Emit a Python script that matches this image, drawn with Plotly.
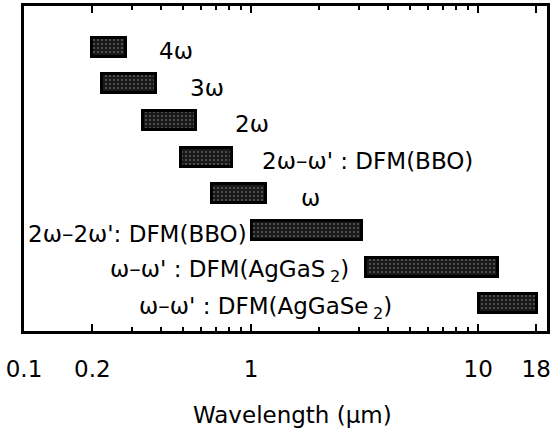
import math
import plotly.graph_objects as go

# ---- data ----
labels = ["4ω", "3ω", "2ω", "2ω–ω' : DFM(BBO)", "ω",
          "2ω–2ω': DFM(BBO)", "ω–ω' : DFM(AgGaS\u2009<sub>2</sub>)",
          "ω–ω' : DFM(AgGaSe\u2009<sub>2</sub>)"]
start_um = [0.20, 0.22, 0.335, 0.49, 0.675, 1.01, 3.2, 10.05]
end_um = [0.28, 0.38, 0.57, 0.82, 1.16, 3.07, 12.2, 18.1]
tick_vals = [0.1, 0.2, 1, 10, 18]
tick_text = ["0.1", "0.2", "1", "10", "18"]
minor_vals = [0.3, 0.4, 0.5, 0.6, 0.7, 0.8, 0.9, 2, 3, 4, 5, 6, 7, 8, 9, 20]

# ---- label styling (side of bar and pixel offset) ----
label_side = ["r", "r", "r", "r", "r", "l", "l", "l"]
label_shift = [31, 32, 37, 28, 33, -3, -15, -85]

FONT = "DejaVu Sans"
FS = 23
rows = list(range(len(labels)))

fig = go.Figure()
fig.add_trace(go.Bar(
    y=rows,
    x=[e - s for s, e in zip(start_um, end_um)],
    base=start_um,
    orientation="h",
    width=0.52,
    marker=dict(
        color="#111111",
        line=dict(color="black", width=3),
        pattern=dict(shape=".", fgcolor="#a0a0a0", bgcolor="#1a1a1a",
                     size=4, solidity=0.2),
    ),
    showlegend=False,
    hoverinfo="skip",
))

for i, lab in enumerate(labels):
    if label_side[i] == "r":
        xv, anchor = math.log10(end_um[i]), "left"
    else:
        xv, anchor = math.log10(start_um[i]), "right"
    fig.add_annotation(x=xv, y=rows[i], xref="x", yref="y", text=lab,
                       showarrow=False, xanchor=anchor, yanchor="middle",
                       xshift=label_shift[i], yshift=-4,
                       font=dict(family=FONT, size=FS, color="black"))

fig.add_annotation(x=0.514, y=0, xref="paper", yref="paper",
                   text="Wavelength (μm)", showarrow=False,
                   xanchor="center", yanchor="middle", yshift=-84,
                   font=dict(family=FONT, size=FS, color="black"))

fig.update_xaxes(
    type="log", range=[-1.0, 1.303],
    tickvals=tick_vals, ticktext=tick_text,
    ticks="inside", ticklen=7, tickwidth=2, tickcolor="black",
    minor=dict(tickvals=minor_vals, ticks="inside", ticklen=4,
               tickwidth=2, tickcolor="black", showgrid=False),
    showline=True, linewidth=3, linecolor="black", mirror="ticks",
    showgrid=False, zeroline=False, automargin=False,
    tickfont=dict(family=FONT, size=FS, color="black"),
    ticklabelstandoff=15,
)
fig.update_yaxes(
    range=[7.74, -1.12], showticklabels=False, ticks="",
    showline=True, linewidth=3, linecolor="black", mirror=True,
    showgrid=False, zeroline=False, automargin=False,
)
fig.update_layout(
    width=557, height=435,
    margin=dict(l=24, r=10, t=6, b=104, autoexpand=False),
    paper_bgcolor="white", plot_bgcolor="white",
    bargap=0,
)
fig.write_html("out.html",
               config={"displayModeBar": False},
               post_script="document.body.style.margin='0';")
